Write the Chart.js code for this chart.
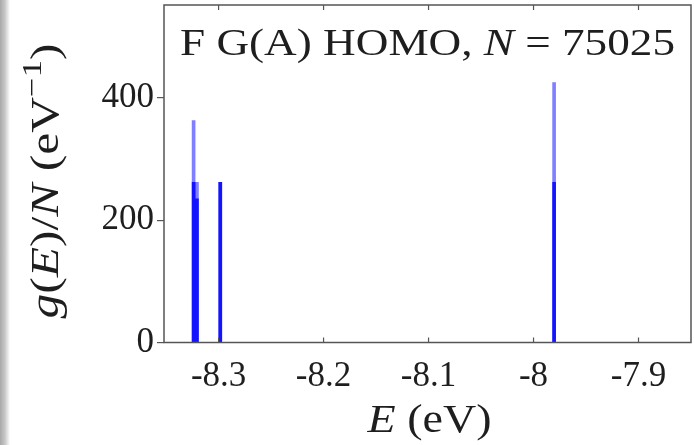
<!DOCTYPE html>
<html>
<head>
<meta charset="utf-8">
<script src="https://cdn.jsdelivr.net/npm/chart.js@4/dist/chart.umd.min.js"></script>
<style>
  html, body { margin: 0; padding: 0; background: #fff; }
  #wrap { position: relative; width: 694px; height: 445px; overflow: hidden; }
  #edge { position: absolute; left: 0; top: 0; width: 10px; height: 445px;
          background: linear-gradient(to right, #a8a8a8 0px, #c8c8c8 5px, #fff 10px); }
  canvas { position: absolute; left: 0; top: 0; }
</style>
</head>
<body>
<div id="wrap">
  <div id="edge"></div>
  <canvas id="dos" width="694" height="445"></canvas>
</div>
<script>
// peak positions (eV) and histogram heights, g(E)/N in eV^-1
const peakEnergies = [-8.3238, -8.3206, -8.2984, -7.9804];
const upperCounts = [363, 262, 262, 425];
const lowerCounts = [262, 235, 262, 262];

const xTicks = [-8.3, -8.2, -8.1, -8, -7.9];
const yTicks = [0, 200, 400];

const xRange = [-8.352, -7.85];
const yRange = [0, 552];

const serif = '"Liberation Serif", "DejaVu Serif", serif';
const frameColor = '#555';
const textColor = '#1e1e1e';

const toPoints = (xs, ys) => xs.map((x, i) => ({ x: x, y: ys[i] }));

// draw a line of text made of plain / italic / superscript pieces,
// stretched sideways to the width it has in the original figure
const drawRich = (ctx, parts, x, y, size, align, width) => {
    const fontFor = p => (p.italic ? 'italic ' : '') + Math.round(p.sup ? size * 0.7 : size) + 'px ' + serif;
    let total = 0;
    parts.forEach(p => { ctx.font = fontFor(p); total += ctx.measureText(p.t).width; });
    const k = width ? width / total : 1;
    const start = align === 'right' ? x - total * k : align === 'center' ? x - total * k / 2 : x;
    ctx.save();
    ctx.translate(start, y);
    ctx.scale(k, 1);
    ctx.textAlign = 'left';
    ctx.textBaseline = 'alphabetic';
    let cx = 0;
    parts.forEach(p => {
        ctx.font = fontFor(p);
        ctx.fillText(p.t, cx, p.sup ? -size * 0.42 : 0);
        cx += ctx.measureText(p.t).width;
    });
    ctx.restore();
};

const framePlugin = {
    id: 'frame',
    afterDraw(chart) {
        const { ctx, chartArea: a, scales } = chart;
        ctx.save();
        ctx.strokeStyle = frameColor;
        ctx.lineWidth = 1.5;
        ctx.strokeRect(a.left, a.top, a.right - a.left, a.bottom - a.top);
        // inward ticks on top and bottom
        ctx.lineWidth = 1.2;
        xTicks.forEach(v => {
            const px = scales.x.getPixelForValue(v);
            ctx.beginPath();
            ctx.moveTo(px, a.bottom);
            ctx.lineTo(px, a.bottom - 5);
            ctx.moveTo(px, a.top);
            ctx.lineTo(px, a.top + 5);
            ctx.stroke();
        });

        ctx.fillStyle = textColor;
        // in-plot label
        drawRich(ctx, [
            { t: 'F G(A) HOMO, ' },
            { t: 'N', italic: true },
            { t: ' = 75025' }
        ], 675, 55, 38, 'right', 495);

        // x axis title
        drawRich(ctx, [
            { t: 'E', italic: true },
            { t: ' (eV)' }
        ], (a.left + a.right) / 2 + 2, 432, 41, 'center', 124);

        // y axis title, rotated
        ctx.translate(58, 181);
        ctx.rotate(-Math.PI / 2);
        drawRich(ctx, [
            { t: 'g', italic: true },
            { t: '(' },
            { t: 'E', italic: true },
            { t: ')/' },
            { t: 'N', italic: true },
            { t: ' (eV' },
            { t: '\u22121', sup: true },
            { t: ')' }
        ], 0, 0, 40, 'center', 275);
        ctx.restore();
    }
};

const ctx = document.getElementById('dos').getContext('2d');
const chart = new Chart(ctx, {
    type: 'bar',
    data: {
        datasets: [
            {
                label: 'upper',
                data: toPoints(peakEnergies, upperCounts),
                backgroundColor: 'rgba(0, 0, 255, 0.5)',
                barThickness: 3,
                grouped: false
            },
            {
                label: 'lower',
                data: toPoints(peakEnergies, lowerCounts),
                backgroundColor: 'rgba(0, 0, 255, 0.85)',
                barThickness: 3,
                grouped: false
            }
        ]
    },
    options: {
        responsive: false,
        animation: false,
        events: [],
        layout: { padding: { top: 5, right: 3, left: 0, bottom: 0 } },
        plugins: { legend: { display: false }, tooltip: { enabled: false } },
        scales: {
            x: {
                type: 'linear',
                min: xRange[0],
                max: xRange[1],
                offset: false,
                grid: { display: false },
                border: { display: false },
                afterBuildTicks: s => { s.ticks = xTicks.map(v => ({ value: v })); },
                afterFit: s => { s.height = 102.5; s.paddingLeft = 0; s.paddingRight = 0; },
                ticks: {
                    padding: 5,
                    color: textColor,
                    font: { family: serif, size: 35 },
                    maxRotation: 0,
                    callback: v => String(v)
                }
            },
            y: {
                min: yRange[0],
                max: yRange[1],
                grid: {
                    drawOnChartArea: false,
                    drawTicks: true,
                    tickLength: 7,
                    color: frameColor,
                    lineWidth: 1.2
                },
                border: { display: false },
                afterBuildTicks: s => { s.ticks = yTicks.map(v => ({ value: v })); },
                afterFit: s => { s.width = 164; s.paddingTop = 0; s.paddingBottom = 0; },
                ticks: {
                    padding: 3,
                    color: textColor,
                    font: { family: serif, size: 35 }
                }
            }
        }
    },
    plugins: [framePlugin]
});
</script>
</body>
</html>
